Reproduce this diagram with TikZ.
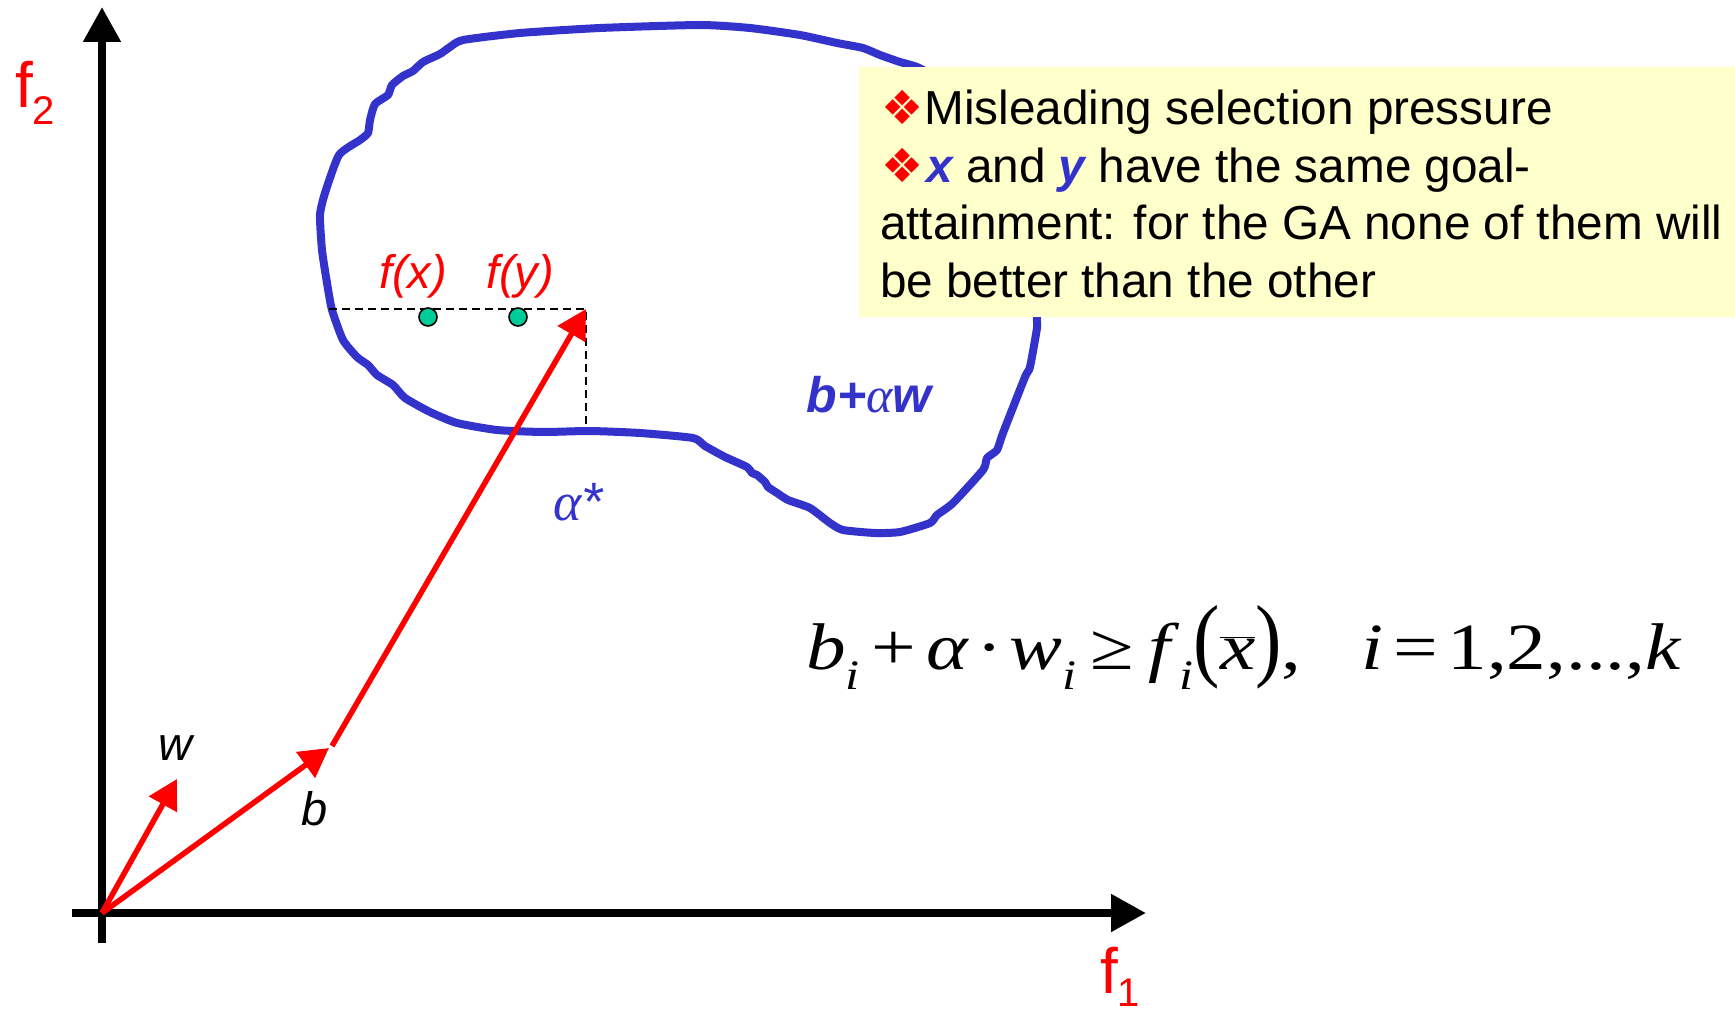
\documentclass[tikz,border=0pt]{standalone}
\usepackage{fontspec}
\usepackage{graphicx}
\setmainfont{Liberation Sans}
\newfontfamily\tnr{Liberation Serif}
\newfontfamily\dejavu{DejaVu Sans}
\usetikzlibrary{arrows.meta}
\definecolor{blobblue}{HTML}{3333CC}
\definecolor{boxyellow}{HTML}{FFFFCC}
\definecolor{dotgreen}{HTML}{00CC99}
\newcommand{\eqsub}[1]{\raisebox{-20pt}{\fontsize{42}{42}\selectfont\itshape #1}}
\newcommand{\redbullet}{{\dejavu\fontsize{47}{47}\selectfont\color{red}❖}}
\begin{document}
\begin{tikzpicture}[x=1pt,y=-1pt,
  axis/.style={line width=8pt,-{Triangle[length=35pt,width=36pt]}},
  redarrow/.style={red,line width=5.5pt,-{Triangle[length=29pt,width=31pt]}},
  blob/.style={blobblue,line width=8pt,line join=round},
  guide/.style={line width=2.4pt,dash pattern=on 8pt off 5pt},
  dot/.style={circle,fill=dotgreen,draw=black,line width=1.6pt,minimum size=18pt,inner sep=0pt},
  lbl/.style={inner sep=0pt,anchor=base,font=\fontsize{47}{47}\selectfont\itshape},
  boxtxt/.style={inner sep=0pt,anchor=base west,font=\fontsize{47.7}{47.7}\selectfont},
]
\path[use as bounding box] (0,0) rectangle (1735,1011);

% blob outline
\draw[blob] plot[smooth cycle,tension=0.35] coordinates {
 (463,40) (450,47) (440,54) (423,62) (413,71) (403,76) (392,85) (388,95)
 (375,104) (370,120) (368,133) (360,140) (339,155) (325,193) (320,215)
 (322,250) (327,283) (332,310) (343,340) (357,357) (368,365) (377,375)
 (393,385) (405,398) (430,412) (457,423) (497,430) (543,432) (590,431)
 (640,433) (693,438) (705,446) (725,457) (747,467) (752,473) (757,475)
 (765,482) (768,487) (777,493) (788,500) (810,508) (830,523) (843,530)
 (875,533) (900,532) (930,523) (937,515) (953,503) (983,470) (987,458)
 (997,450) (1003,433) (1025,377) (1030,367) (1037,328) (1037,317)
 (1040,260) (1030,180) (990,120) (940,80) (917,67) (900,62) (880,55)
 (863,48) (837,43) (800,35) (750,28) (700,25) (600,28) (520,33)};

% text box
\node[fill=boxyellow,inner sep=0pt,anchor=north west,minimum width=876pt,minimum height=250pt] (box) at (859,67) {};
\node[boxtxt] (t1) at (881,125) {\redbullet\hspace{1pt}Misleading selection pressure};
\node[boxtxt] (t2) at (881,183) {\redbullet\hspace{3pt}{\color{blobblue}\bfseries\itshape x} and {\color{blobblue}\bfseries\itshape y} have the same goal-};
\node[boxtxt] (t3) at (880,240) {attainment: for the GA none of them will};
\node[boxtxt] (t4) at (880,298) {be better than the other};

% axes
\coordinate (O) at (102,913);
\coordinate (xs) at (72,913);
\coordinate (xe) at (1146,913);
\coordinate (ys) at (102,943);
\coordinate (ye) at (102,7);
\draw[axis] (xs) -- (xe);
\draw[axis] (ys) -- (ye);

% axis labels
\node[inner sep=0pt,anchor=base west,red,font=\fontsize{64}{64}\selectfont] (f2) at (15,108) {f\raisebox{-17pt}{\fontsize{40}{40}\selectfont 2}};
\node[inner sep=0pt,anchor=base west,red,font=\fontsize{64}{64}\selectfont] (f1) at (1100,993) {f\raisebox{-13pt}{\fontsize{40}{40}\selectfont 1}};

% guide lines
\coordinate (at) at (586,309);
\coordinate (dl) at (329,309);
\coordinate (db) at (586,424);
\draw[guide] (dl) -- (at) -- (db);

% vectors
\coordinate (wt) at (177,779);
\coordinate (bt) at (329,748);
\coordinate (ls) at (332,746);
\draw[redarrow] (O) -- (wt);
\draw[redarrow] (O) -- (bt);
\draw[redarrow] (ls) -- (at);

% points
\node[dot] (px) at (428,317) {};
\node[dot] (py) at (518,317) {};

% labels
\node[lbl,red] (lfx) at (413,288) {f(x)};
\node[lbl,red] (lfy) at (520,288) {f(y)};
\node[lbl] (lw) at (175,760) {w};
\node[lbl] (lb) at (315,825) {b};
\node[lbl,blobblue,font=\fontsize{54}{54}\selectfont\itshape] (la) at (578,520) {{\tnr\itshape α}*};
\node[lbl,blobblue,font=\fontsize{50}{50}\selectfont\itshape] (lbaw) at (869,412) {{\bfseries b+}{\tnr\itshape α}{\bfseries w}};

% equation
\node[inner sep=0pt,anchor=base west,font=\tnr\fontsize{66}{66}\selectfont] (eq) at (806,669)
 {\scalebox{1.2}[1]{\textit{b}\eqsub{i}\hspace{10pt}+\hspace{8pt}\textit{α}\hspace{6pt}·\hspace{6pt}\textit{w}\eqsub{i}\hspace{12pt}≥\hspace{12pt}\textit{f}\eqsub{i}\scalebox{1}[1.4]{(}$\overline{\hbox{\textit{x}}}$\scalebox{1}[1.4]{)},\hspace{50pt}\textit{i}\hspace{8pt}=\hspace{8pt}1,2,...,\textit{k}}};
\end{tikzpicture}
\end{document}
